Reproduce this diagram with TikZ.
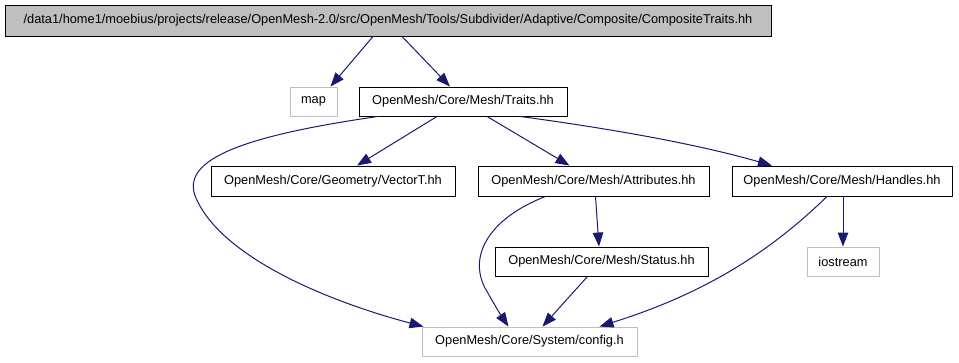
\documentclass[tikz,border=0pt]{standalone}
\usepackage{fontspec}
\setmainfont{Liberation Sans}
\usetikzlibrary{arrows.meta,calc}
\definecolor{edgeblue}{HTML}{191970}
\definecolor{boxgray}{HTML}{BFBFBF}
\begin{document}
\begin{tikzpicture}[x=1pt,y=-1pt,
  file/.style={draw=black,line width=0.9pt,fill=white,inner sep=0pt,
    font=\fontsize{12.8}{15}\selectfont,anchor=center},
  extfile/.style={file,draw=boxgray},
  rootfile/.style={file,fill=boxgray},
  dep/.style={draw=edgeblue,line width=1pt,
    -{Triangle[length=14pt,width=10.5pt]}}]
\useasboundingbox (0,0) rectangle (959,363);

% header being documented
\node[rootfile,minimum width=766pt,minimum height=31pt] (root) at (388,20.5)
  {/data1/home1/moebius/projects/release/OpenMesh-2.0/src/OpenMesh/Tools/Subdivider/Adaptive/Composite/CompositeTraits.hh};

% direct includes
\node[extfile,minimum width=47pt,minimum height=29pt] (map) at (313.5,101.5) {map};
\node[file,minimum width=208pt,minimum height=29pt] (traits) at (463,101.5) {OpenMesh/Core/Mesh/Traits.hh};

% second level
\node[file,minimum width=244pt,minimum height=30pt] (vector) at (333,181) {OpenMesh/Core/Geometry/VectorT.hh};
\node[file,minimum width=231pt,minimum height=30pt] (attrib) at (593.5,181) {OpenMesh/Core/Mesh/Attributes.hh};
\node[file,minimum width=220pt,minimum height=30pt] (handles) at (842,181) {OpenMesh/Core/Mesh/Handles.hh};

% third level
\node[file,minimum width=213pt,minimum height=29pt] (status) at (601.5,261.5) {OpenMesh/Core/Mesh/Status.hh};
\node[extfile,minimum width=72pt,minimum height=29pt] (iostream) at (843,261.5) {iostream};

% common configuration header
\node[extfile,minimum width=215pt,minimum height=29pt] (config) at (529.5,341.5) {OpenMesh/Core/System/config.h};

% include edges
\draw[dep] ($(root.south)+(-15,0)$) -- ($(map.north)+(17,0)$);
\draw[dep] ($(root.south)+(14,0)$) -- ($(traits.north)+(-13,0)$);

\draw[dep] ($(traits.south)+(-85,0)$)
  .. controls (250,135) and (178,158) .. (196,198)
  .. controls (222,258) and (330,302) .. ($(config.north)+(-106,0)$);
\draw[dep] ($(traits.south)+(-26,0)$) -- ($(vector.north)+(24,0)$);
\draw[dep] ($(traits.south)+(24,0)$) -- ($(attrib.north)+(-24,0)$);
\draw[dep] ($(traits.south)+(57,0)$) .. controls (620,130) and (700,145) .. ($(handles.north)+(-70,0)$);

\draw[dep] ($(attrib.south)+(-48,0)$)
  .. controls (490,218) and (468,255) .. (485,288)
  .. controls (493,302) and (500,314) .. ($(config.north)+(-21,0)$);
\draw[dep] ($(attrib.south)+(2,0)$) -- ($(status.north)+(-2.5,0)$);
\draw[dep] ($(status.south)+(-14,0)$) -- ($(config.north)+(13,0)$);

\draw[dep] ($(handles.south)+(-15,0)$)
  .. controls (760,262) and (690,298) .. ($(config.north)+(70,0)$);
\draw[dep] ($(handles.south)+(1,0)$) -- (iostream.north);
\end{tikzpicture}
\end{document}
